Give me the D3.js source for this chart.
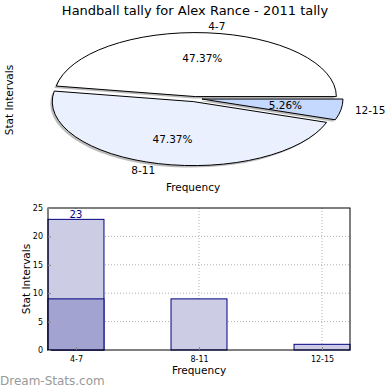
<!DOCTYPE html>
<html>
<head>
<meta charset="utf-8">
<script src="https://cdn.jsdelivr.net/npm/d3@7"></script>
<style>
  body { margin: 0; background: #fff; }
  svg text { font-family: "DejaVu Sans", sans-serif; }
</style>
</head>
<body>
<svg id="chart" width="390" height="390"></svg>
<script>
// data
const categories = ["4-7", "8-11", "12-15"];
const pieValues = [9, 9, 1];
const pieColors = ["#ffffff", "#eaf0fe", "#c5d8fd"];
const pieExplode = [0.03, 0.05, 0.05];
const barValues = [23, 9, 1];
const overlayValues = [9, 0, 0];
const barLabels = ["23", "", ""];
const yTicks = [0, 5, 10, 15, 20, 25];

const svg = d3.select('#chart');

// title
svg.append('text')
  .attr('x', 195).attr('y', 15)
  .attr('text-anchor', 'middle')
  .style('font-size', '13px')
  .text('Handball tally for Alex Rance - 2011 tally');

// ---- pie (squashed into an ellipse) ----
const cx = 195, cy = 98.5, rx = 141, ry = 64;
const total = d3.sum(pieValues);

// matplotlib style: start at 3 o'clock, counter-clockwise
let acc = 0;
const slices = pieValues.map((v, i) => {
  const a0 = acc / total * 2 * Math.PI;
  acc += v;
  const a1 = acc / total * 2 * Math.PI;
  return { cat: categories[i], value: v, a0, a1, mid: (a0 + a1) / 2, i };
});

const arc = d3.arc().innerRadius(0).outerRadius(rx);
const sy = ry / rx;

const pieG = svg.append('g');

function wedgePath(s) {
  return arc({ startAngle: Math.PI / 2 - s.a1, endAngle: Math.PI / 2 - s.a0 });
}
function offset(s, dist) {
  return [cx + dist * rx * Math.cos(s.mid), cy - dist * ry * Math.sin(s.mid)];
}

// shadows
slices.forEach(s => {
  const [ox, oy] = offset(s, pieExplode[s.i]);
  pieG.append('path')
    .attr('d', wedgePath(s))
    .attr('transform', `translate(${ox - 2},${oy + 2}) scale(1,${sy})`)
    .attr('fill', '#777')
    .attr('opacity', 0.5);
});

slices.forEach(s => {
  const [ox, oy] = offset(s, pieExplode[s.i]);
  pieG.append('path')
    .attr('d', wedgePath(s))
    .attr('transform', `translate(${ox},${oy}) scale(1,${sy})`)
    .attr('fill', pieColors[s.i])
    .attr('stroke', '#000')
    .attr('stroke-width', 1)
    .attr('vector-effect', 'non-scaling-stroke');
});

// labels
slices.forEach(s => {
  const e = pieExplode[s.i];
  const [lx, ly] = offset(s, 1.1 + e);
  pieG.append('text')
    .attr('x', lx).attr('y', ly)
    .attr('dy', '0.35em')
    .attr('text-anchor', Math.cos(s.mid) >= 0 ? 'start' : 'end')
    .style('font-size', '10.5px')
    .text(s.cat);
  const [px, py] = offset(s, 0.6 + e);
  pieG.append('text')
    .attr('x', px).attr('y', py)
    .attr('dy', '0.35em')
    .attr('text-anchor', 'middle')
    .style('font-size', '10.5px')
    .text(d3.format('.2f')(s.value / total * 100) + '%');
});

svg.append('text')
  .attr('x', 193).attr('y', 191)
  .attr('text-anchor', 'middle')
  .style('font-size', '10.5px')
  .text('Frequency');
svg.append('text')
  .attr('transform', 'translate(13,100) rotate(-90)')
  .attr('text-anchor', 'middle')
  .style('font-size', '10.5px')
  .text('Stat Intervals');

// ---- bar chart ----
const plotL = 48, plotR = 350, plotT = 208, plotB = 350;
const bw = 0.455;
const x = d3.scaleLinear().domain([-bw / 2, categories.length - 1 + bw / 2]).range([plotL, plotR]);
const y = d3.scaleLinear().domain([0, 25]).range([plotB, plotT]);

const barG = svg.append('g');

// grid
barG.selectAll('.hgrid').data(yTicks.slice(1, -1)).enter().append('line')
  .attr('x1', plotL).attr('x2', plotR)
  .attr('y1', d => y(d)).attr('y2', d => y(d))
  .attr('stroke', '#b0b0b0').attr('stroke-dasharray', '1,2');
barG.selectAll('.vgrid').data(categories).enter().append('line')
  .attr('x1', (d, i) => x(i)).attr('x2', (d, i) => x(i))
  .attr('y1', plotT).attr('y2', plotB)
  .attr('stroke', '#b0b0b0').attr('stroke-dasharray', '1,2');

// bars
barG.selectAll('.bar').data(barValues).enter().append('rect')
  .attr('x', (d, i) => x(i - bw / 2))
  .attr('width', x(bw) - x(0))
  .attr('y', d => y(d))
  .attr('height', d => plotB - y(d))
  .attr('fill', '#ccccE4')
  .attr('stroke', '#000080')
  .attr('stroke-width', 1);

barG.selectAll('.overlay').data(overlayValues).enter().filter(d => d > 0).append('rect')
  .attr('x', (d, i) => x(i - bw / 2))
  .attr('width', x(bw) - x(0))
  .attr('y', d => y(d))
  .attr('height', d => plotB - y(d))
  .attr('fill', '#a3a3d1')
  .attr('stroke', '#000080')
  .attr('stroke-width', 1);

barValues.forEach((v, i) => {
  if (!barLabels[i]) return;
  barG.append('text')
    .attr('x', x(i)).attr('y', y(v) - 1)
    .attr('text-anchor', 'middle')
    .style('font-size', '10px')
    .attr('fill', '#000080')
    .text(barLabels[i]);
});

// frame
barG.append('rect')
  .attr('x', plotL).attr('y', plotT)
  .attr('width', plotR - plotL).attr('height', plotB - plotT)
  .attr('fill', 'none').attr('stroke', '#000').attr('stroke-width', 1);

// ticks
const yAxis = d3.axisLeft(y).tickValues(yTicks).tickSize(-3).tickPadding(5);
barG.append('g').attr('transform', `translate(${plotL},0)`).call(yAxis)
  .call(g => g.select('.domain').remove())
  .call(g => g.selectAll('line').attr('stroke', '#888'))
  .call(g => g.selectAll('text').style('font-size', '8px').style('font-family', '"DejaVu Sans", sans-serif'));

const xAxis = d3.axisBottom(x).tickValues(d3.range(categories.length))
  .tickFormat(i => categories[i]).tickSize(-3).tickPadding(6);
barG.append('g').attr('transform', `translate(0,${plotB})`).call(xAxis)
  .call(g => g.select('.domain').remove())
  .call(g => g.selectAll('line').attr('stroke', '#888'))
  .call(g => g.selectAll('text').style('font-size', '8px').style('font-family', '"DejaVu Sans", sans-serif'));

svg.append('text')
  .attr('x', 199).attr('y', 374)
  .attr('text-anchor', 'middle')
  .style('font-size', '10.5px')
  .text('Frequency');
svg.append('text')
  .attr('transform', 'translate(30,279) rotate(-90)')
  .attr('text-anchor', 'middle')
  .style('font-size', '10.5px')
  .text('Stat Intervals');

// watermark
svg.append('text')
  .attr('x', 0).attr('y', 385)
  .style('font-size', '12px')
  .attr('fill', '#999')
  .text('Dream-Stats.com');
</script>
</body>
</html>
